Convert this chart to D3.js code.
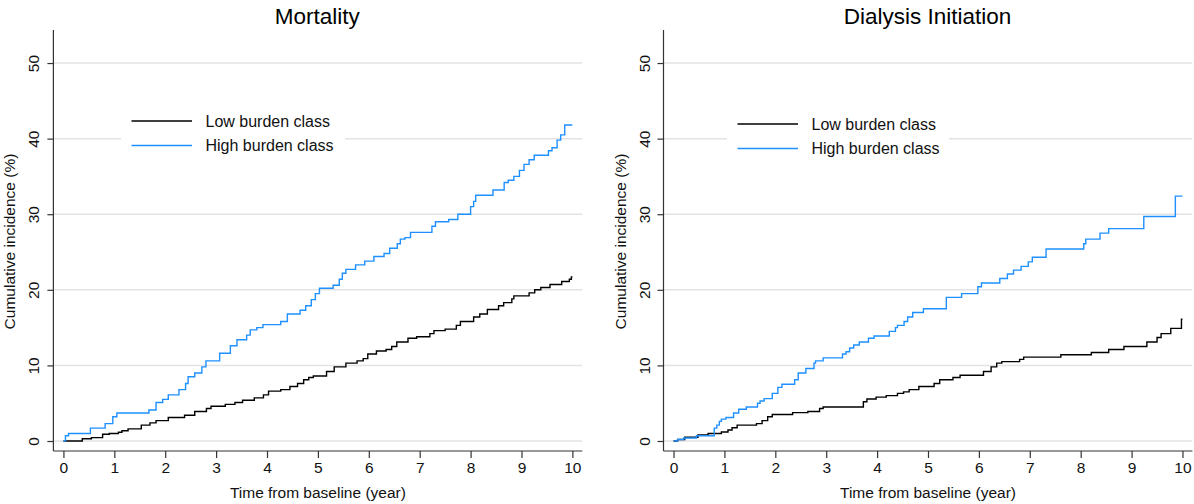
<!DOCTYPE html>
<html>
<head>
<meta charset="utf-8">
<script src="https://cdn.jsdelivr.net/npm/d3@7"></script>
<style>
  html, body { margin: 0; padding: 0; background: #fff; }
  svg { display: block; font-family: "Liberation Sans", Arial, Helvetica, sans-serif; }
</style>
</head>
<body>
<svg id="chart" width="1194" height="504"></svg>
<script>
// ---- Data (time in years, cumulative incidence in %) ----
const panelTitles = ["Mortality", "Dialysis Initiation"];
const seriesNames = ["Low burden class", "High burden class"];
const seriesColors = ["#000000", "#1E90FF"];
const xTicks = [0, 1, 2, 3, 4, 5, 6, 7, 8, 9, 10];
const yTicks = [0, 10, 20, 30, 40, 50];
const xLabel = "Time from baseline (year)";
const yLabel = "Cumulative incidence (%)";

const mortalityLow = [[0,0],[0.37,0.3],[0.55,0.45],[0.77,0.9],[0.9,1.0],[1.08,1.15],[1.15,1.35],[1.27,1.6],[1.53,2.1],[1.7,2.4],[1.82,2.7],[2.06,3.1],[2.38,3.4],[2.58,3.9],[2.81,4.3],[2.9,4.6],[3.18,4.85],[3.37,5.1],[3.52,5.4],[3.75,5.7],[3.93,6.1],[4.03,6.6],[4.27,6.8],[4.45,7.2],[4.6,7.6],[4.72,8.1],[4.82,8.4],[4.91,8.6],[5.17,9.2],[5.32,9.8],[5.55,10.3],[5.77,10.6],[5.89,10.9],[5.98,11.5],[6.15,11.9],[6.34,12.1],[6.45,12.5],[6.55,13.1],[6.77,13.6],[6.94,13.8],[7.2,14.2],[7.28,14.6],[7.5,14.8],[7.72,15.3],[7.8,15.8],[8.06,16.4],[8.18,16.8],[8.33,17.4],[8.55,17.9],[8.65,18.3],[8.81,18.8],[8.85,19.2],[9.15,19.6],[9.26,20.0],[9.38,20.3],[9.56,20.7],[9.79,21.1],[9.94,21.4],[9.98,21.7],[10.0,21.7]];
const mortalityHigh = [[0,0],[0.04,0.7],[0.1,1.0],[0.53,1.7],[0.82,2.3],[0.97,3.2],[1.05,3.7],[1.68,4.1],[1.82,5.1],[1.95,5.5],[2.06,6.1],[2.27,6.8],[2.4,7.6],[2.45,8.5],[2.58,9.0],[2.72,9.8],[2.8,10.6],[3.07,11.6],[3.28,12.6],[3.41,13.4],[3.6,14.0],[3.67,14.7],[3.8,15.0],[3.92,15.4],[4.27,15.8],[4.4,16.8],[4.65,17.3],[4.76,17.9],[4.87,18.7],[4.95,19.5],[5.03,20.2],[5.3,20.6],[5.42,21.4],[5.48,22.2],[5.55,22.7],[5.74,23.3],[5.92,23.8],[6.1,24.4],[6.3,24.8],[6.41,25.5],[6.56,26.1],[6.62,26.7],[6.71,26.9],[6.82,27.6],[7.24,28.4],[7.31,29.0],[7.57,29.3],[7.75,30.0],[8.0,31.0],[8.06,31.7],[8.1,32.5],[8.44,33.2],[8.66,34.2],[8.74,34.5],[8.85,35.0],[8.96,35.8],[9.05,36.6],[9.15,37.2],[9.25,37.8],[9.53,38.4],[9.6,38.8],[9.7,39.8],[9.77,40.5],[9.85,41.8],[10.0,41.8]];
const dialysisLow = [[0,0],[0.08,0.2],[0.22,0.5],[0.48,0.8],[0.68,1.0],[0.94,1.2],[1.07,1.45],[1.15,1.75],[1.25,2.1],[1.63,2.3],[1.74,2.7],[1.85,3.2],[1.94,3.5],[2.34,3.75],[2.64,3.9],[2.87,4.3],[2.94,4.5],[3.73,5.2],[3.8,5.55],[3.98,5.8],[4.18,6.0],[4.4,6.3],[4.52,6.5],[4.63,6.8],[4.82,7.2],[5.12,7.6],[5.23,8.1],[5.49,8.4],[5.63,8.7],[6.09,9.2],[6.24,9.8],[6.35,10.3],[6.45,10.5],[6.8,10.8],[6.88,11.1],[7.61,11.4],[8.21,11.7],[8.55,12.1],[8.85,12.5],[9.3,13.1],[9.5,13.7],[9.58,14.2],[9.77,14.9],[9.98,16.1],[10.0,16.1]];
const dialysisHigh = [[0,0],[0.08,0.2],[0.2,0.4],[0.45,0.7],[0.8,1.7],[0.85,2.1],[0.9,2.6],[0.94,2.9],[1.03,3.1],[1.18,3.7],[1.28,4.2],[1.43,4.5],[1.65,5.0],[1.7,5.3],[1.78,5.6],[1.94,6.3],[2.05,7.1],[2.13,7.5],[2.38,8.1],[2.45,9.0],[2.6,9.6],[2.76,10.3],[2.79,10.6],[2.94,11.0],[3.32,11.5],[3.39,11.8],[3.46,12.3],[3.54,12.7],[3.65,13.1],[3.83,13.6],[3.94,13.9],[4.24,14.5],[4.36,15.0],[4.4,15.3],[4.53,15.8],[4.6,16.4],[4.7,17.0],[4.91,17.5],[5.36,19.0],[5.66,19.5],[5.98,20.4],[6.05,20.9],[6.41,21.5],[6.56,22.1],[6.68,22.6],[6.83,23.1],[6.97,23.7],[7.05,24.3],[7.32,25.4],[8.06,26.1],[8.1,26.7],[8.38,27.5],[8.55,28.1],[9.24,29.7],[9.86,32.4],[10.0,32.4]];

const panels = [
  { title: panelTitles[0], series: [mortalityLow, mortalityHigh], left: 53.4, right: 582.3, legend: { x0: 121, x1: 345, y: 121 } },
  { title: panelTitles[1], series: [dialysisLow, dialysisHigh], left: 663.5, right: 1192.4, legend: { x0: 727, x1: 949, y: 124 } }
];

const svg = d3.select("#chart");
const plotTop = 30, plotBottom = 451;

panels.forEach(p => {
  const x = d3.scaleLinear().domain([-0.197, 10.195]).range([p.left, p.right]);
  const y = d3.scaleLinear().domain([-1.323, 54.37]).range([plotBottom, plotTop]);
  const g = svg.append("g");

  // gridlines
  g.append("g").selectAll("line").data(yTicks).join("line")
    .attr("x1", p.left).attr("x2", p.right)
    .attr("y1", d => y(d)).attr("y2", d => y(d))
    .attr("stroke", "#e3e3e3").attr("stroke-width", 1.5);

  // legend background (covers gridline)
  g.append("rect")
    .attr("x", p.legend.x0).attr("y", p.legend.y - 16)
    .attr("width", p.legend.x1 - p.legend.x0).attr("height", 50)
    .attr("fill", "#fff");

  // x axis
  const xAxis = d3.axisBottom(x).tickValues(xTicks).tickSize(7).tickPadding(3.5).tickSizeOuter(0);
  const gx = g.append("g").attr("transform", `translate(0,${plotBottom})`).call(xAxis);
  gx.select(".domain").attr("stroke", "#333").attr("stroke-width", 1.2).attr("d", `M${p.left},0H${p.right}`);
  gx.selectAll(".tick line").attr("stroke", "#333").attr("stroke-width", 1.2);
  gx.selectAll(".tick text").attr("font-size", 15.5).attr("fill", "#111")
    .attr("font-family", "Liberation Sans, Arial, sans-serif");

  // y axis
  const yAxis = d3.axisLeft(y).tickValues(yTicks).tickSize(6).tickPadding(0).tickSizeOuter(0);
  const gy = g.append("g").attr("transform", `translate(${p.left},0)`).call(yAxis);
  gy.select(".domain").attr("stroke", "#333").attr("stroke-width", 1.2).attr("d", `M0,${plotTop}V${plotBottom}`);
  gy.selectAll(".tick line").attr("stroke", "#333").attr("stroke-width", 1.2);
  gy.selectAll(".tick text").attr("font-size", 15.5).attr("fill", "#111")
    .attr("font-family", "Liberation Sans, Arial, sans-serif")
    .attr("text-anchor", "middle").attr("dy", 0).attr("x", 0)
    .attr("transform", "translate(-19.5,0) rotate(-90)")
    .attr("dominant-baseline", "central");

  // curves
  const line = d3.line().x(d => x(d[0])).y(d => y(d[1])).curve(d3.curveStepAfter);
  p.series.forEach((s, i) => {
    g.append("path").datum(s).attr("d", line)
      .attr("fill", "none").attr("stroke", seriesColors[i]).attr("stroke-width", 1.4);
  });

  // title
  g.append("text").attr("x", (p.left + p.right) / 2 - 0.5).attr("y", 24)
    .attr("text-anchor", "middle").attr("font-size", 22.5).attr("fill", "#000").text(p.title);

  // axis titles
  g.append("text").attr("x", x(5)).attr("y", 498)
    .attr("text-anchor", "middle").attr("font-size", 15.5).attr("fill", "#111").text(xLabel);
  g.append("text")
    .attr("transform", `translate(${p.left - 38},${(plotTop + plotBottom) / 2 + 1}) rotate(-90)`)
    .attr("text-anchor", "middle").attr("font-size", 15.5).attr("fill", "#111").text(yLabel);

  // legend
  seriesNames.forEach((name, i) => {
    const ly = p.legend.y + i * 24.5;
    g.append("line").attr("x1", p.legend.x0 + 10.5).attr("x2", p.legend.x0 + 71)
      .attr("y1", ly).attr("y2", ly).attr("stroke", seriesColors[i]).attr("stroke-width", 1.4);
    g.append("text").attr("x", p.legend.x0 + 84.5).attr("y", ly + 5.8)
      .attr("font-size", 16).attr("fill", "#111").text(name);
  });
});
</script>
</body>
</html>
